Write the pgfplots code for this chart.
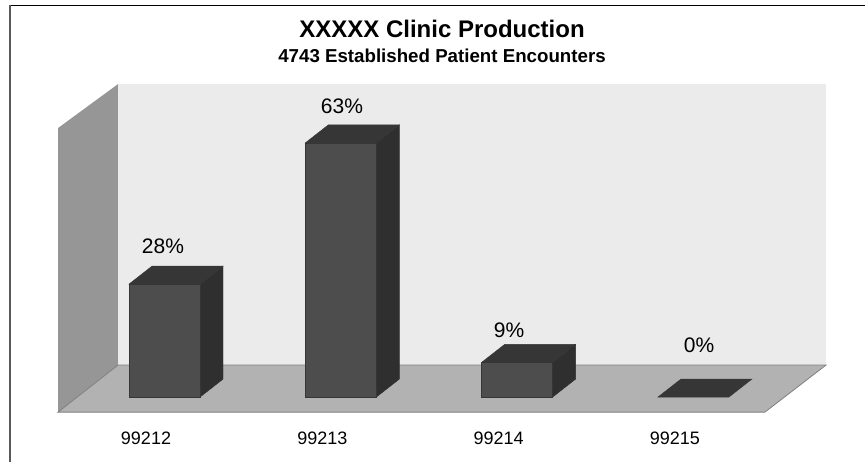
\documentclass[border=0pt]{standalone}
\usepackage{pgfplots}
\pgfplotsset{compat=1.18}
\usepackage{fontspec}
\setmainfont{Liberation Sans}
\definecolor{frontc}{HTML}{4D4D4D}
\definecolor{topc}{HTML}{363636}
\definecolor{sidec}{HTML}{2F2F2F}
\definecolor{backwall}{HTML}{EBEBEB}
\definecolor{leftwall}{HTML}{969696}
\definecolor{floorc}{HTML}{B2B2B2}
\begin{document}
\begin{tikzpicture}
\begin{axis}[
  width=865pt, height=462pt, scale only axis,
  xmin=-0.9331, xmax=3.9733,
  ymin=-16.11, ymax=98.39,
  axis on top,
  axis line style={draw=none},
  major tick length=0pt,
  ytick=\empty,
  xtick={0,1,2,3},
  xticklabels={99212,99213,99214,99215},
  xticklabel style={font=\fontsize{18}{18}\selectfont, xshift=-18.5pt, yshift=34pt},
  title style={at={(axis description cs:0.511,0.944)}, anchor=north, align=center, inner sep=0pt},
  title={\fontsize{24}{24}\selectfont\bfseries XXXXX Clinic Production\\[9.7pt]\fontsize{18.7}{23}\selectfont\bfseries 4743 Established Patient Encounters},
  clip=true,
]
% page background
\addplot[fill=white, draw=none] coordinates {(-0.9331,-16.11) (3.9733,-16.11) (3.9733,98.39) (-0.9331,98.39)} -- cycle;
% outer frame
\addplot[black, line width=1pt] coordinates {(-0.8763,97.15) (3.9733,97.15)};
\addplot[black!65, line width=1.3pt] coordinates {(-0.8763,-16.11) (-0.8763,97.15)};
% walls and floor
\addplot[fill=backwall, draw=none] coordinates {(-0.2638,7.93) (3.7518,7.93) (3.7518,77.57) (-0.2638,77.57)} -- cycle;
\addplot[fill=leftwall, draw=none] coordinates {(-0.6041,-3.72) (-0.2638,7.93) (-0.2638,77.57) (-0.6041,66.67)} -- cycle;
\addplot[fill=floorc, draw=gray, line width=0.8pt] coordinates {(-0.6041,-3.72) (-0.2638,7.93) (3.7518,7.93) (3.4058,-3.72)} -- cycle;
% bar sides
\addplot[fill=sidec, draw=sidec] coordinates {(0.2014,0) (0.3319,4.46) (0.3319,32.46) (0.2014,28)} -- cycle;
\addplot[fill=sidec, draw=sidec] coordinates {(1.2014,0) (1.3319,4.46) (1.3319,67.46) (1.2014,63)} -- cycle;
\addplot[fill=sidec, draw=sidec] coordinates {(2.2014,0) (2.3319,4.46) (2.3319,13.06) (2.2014,8.6)} -- cycle;
% bar tops
\addplot[fill=topc, draw=topc] coordinates {(-0.2014,28) (0.2014,28) (0.3319,32.46) (-0.0709,32.46)} -- cycle;
\addplot[fill=topc, draw=topc] coordinates {(0.7986,63) (1.2014,63) (1.3319,67.46) (0.9291,67.46)} -- cycle;
\addplot[fill=topc, draw=topc] coordinates {(1.7986,8.6) (2.2014,8.6) (2.3319,13.06) (1.9291,13.06)} -- cycle;
\addplot[fill=topc, draw=topc] coordinates {(2.7986,0) (3.2014,0) (3.3319,4.46) (2.9291,4.46)} -- cycle;
% bar fronts
\addplot[ybar, bar width=71pt, fill=frontc, draw=topc] coordinates {(0,28) (1,63) (2,8.6)};
% percentage labels
\addplot[draw=none, mark=none, point meta=explicit,
  nodes near coords={\pgfmathprintnumber{\pgfplotspointmeta}\%},
  nodes near coords style={font=\fontsize{21}{21}\selectfont, anchor=center, inner sep=0pt, text=black, /pgf/number format/assume math mode=true}]
  coordinates {(-0.0085,37.42) [28] (1.0068,72.1) [63] (1.954,16.6) [9] (3.032,12.9) [0]};
\end{axis}
\end{tikzpicture}
\end{document}
